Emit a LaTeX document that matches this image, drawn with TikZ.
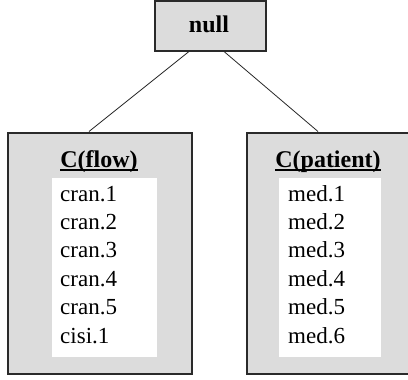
\documentclass[tikz,border=0pt]{standalone}
\usepackage{fontspec}
\setmainfont{Liberation Serif}
\definecolor{boxgray}{HTML}{DCDCDC}
\definecolor{edgegray}{HTML}{2A2A2A}
\tikzset{
  graybox/.style={draw=edgegray, line width=2pt, fill=boxgray, inner sep=0pt, anchor=north west},
  listbox/.style={fill=white, inner sep=0pt, anchor=north west},
  titletext/.style={inner sep=0pt, anchor=base, font=\fontsize{24}{28}\selectfont\bfseries},
  itemtext/.style={inner sep=0pt, anchor=base west, font=\fontsize{23}{28}\selectfont},
  link/.style={draw=black!85, line width=0.8pt},
  underbar/.style={line width=1.6pt, black}
}
\begin{document}
\begin{tikzpicture}[x=1pt, y=1pt]
  \useasboundingbox (0,0) rectangle (408,-380);

  % root node
  \node[graybox, minimum width=111pt, minimum height=50pt] (null) at (153.5,0.5) {};
  \node[inner sep=0pt, anchor=base, font=\fontsize{24}{28}\selectfont\bfseries] (nulltext) at (209,-32) {null};

  % left container
  \node[graybox, minimum width=184pt, minimum height=241pt] (flow) at (6.5,-131.5) {};
  \node[listbox, minimum width=105pt, minimum height=179pt] (flowlist) at (52,-178) {};
  \node[titletext] (flowtitle) at (99,-167) {C(flow)};
  \draw[underbar] ([yshift=-3pt]flowtitle.base west) -- ([yshift=-3pt]flowtitle.base east);
  \node[itemtext] (f1) at (60,-201) {cran.1};
  \node[itemtext] (f2) at (60,-229.4) {cran.2};
  \node[itemtext] (f3) at (60,-257.8) {cran.3};
  \node[itemtext] (f4) at (60,-286.2) {cran.4};
  \node[itemtext] (f5) at (60,-314.6) {cran.5};
  \node[itemtext] (f6) at (60,-343) {cisi.1};

  % right container, running past the right edge
  \node[graybox, minimum width=184pt, minimum height=241pt] (patient) at (245.5,-131.5) {};
  \node[listbox, minimum width=102pt, minimum height=179pt] (patlist) at (279,-178) {};
  \node[titletext] (pattitle) at (328,-167) {C(patient)};
  \draw[underbar] ([yshift=-3pt]pattitle.base west) -- ([yshift=-3pt]pattitle.base east);
  \node[itemtext] (p1) at (288,-201) {med.1};
  \node[itemtext] (p2) at (288,-229.4) {med.2};
  \node[itemtext] (p3) at (288,-257.8) {med.3};
  \node[itemtext] (p4) at (288,-286.2) {med.4};
  \node[itemtext] (p5) at (288,-314.6) {med.5};
  \node[itemtext] (p6) at (288,-343) {med.6};

  % connectors
  \draw[link] ([xshift=-21pt]null.south) -- ([xshift=-10.5pt]flow.north);
  \draw[link] ([xshift=14pt]null.south) -- ([xshift=-20.5pt]patient.north);
\end{tikzpicture}
\end{document}
